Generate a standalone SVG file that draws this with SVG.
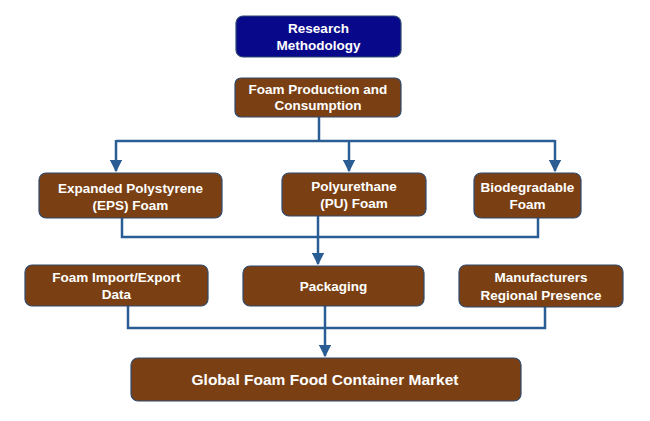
<svg xmlns="http://www.w3.org/2000/svg" width="650" height="421" viewBox="0 0 650 421">
<style>
.box{fill:#7a3f12;stroke:#2f4a6e;stroke-width:1.2}
.blue{fill:#08088a;stroke:#2f4a6e;stroke-width:1.2}
.t{font-family:"Liberation Sans",Arial,sans-serif;font-weight:bold;font-size:13.5px;fill:#fff;text-anchor:middle}
.c{fill:none;stroke:#2b5d95;stroke-width:2.5}
</style>
<defs>
<marker id="a" viewBox="0 0 10 10" refX="9" refY="5" markerWidth="5" markerHeight="5" orient="auto"><path d="M0,0L10,5L0,10z" fill="#2b5d95"/></marker>
</defs>
<rect width="650" height="421" fill="#fff"/>
<g id="connectors">
<path class="c" d="M319,117V141"/>
<path class="c" d="M116,141H555"/>
<path class="c" d="M116,140V171" marker-end="url(#a)"/>
<path class="c" d="M349,141V171" marker-end="url(#a)"/>
<path class="c" d="M555,140V171" marker-end="url(#a)"/>
<path class="c" d="M122,218V237H538V218"/>
<path class="c" d="M318,216V264" marker-end="url(#a)"/>
<path class="c" d="M128,306V328H545V307"/>
<path class="c" d="M325,306V356" marker-end="url(#a)"/>
</g>
<g id="research"><rect class="blue" x="236" y="16" width="165" height="41" rx="7"/><text class="t" x="318.5" y="33">Research</text><text class="t" x="318.5" y="50">Methodology</text></g>
<g id="production"><rect class="box" x="235" y="78" width="166" height="39" rx="6"/><text class="t" x="318" y="94">Foam Production and</text><text class="t" x="318" y="110">Consumption</text></g>
<g id="eps"><rect class="box" x="39" y="173" width="183" height="45" rx="7"/><text class="t" x="130.5" y="193">Expanded Polystyrene</text><text class="t" x="130.5" y="210">(EPS) Foam</text></g>
<g id="pu"><rect class="box" x="282" y="173" width="144" height="43" rx="7"/><text class="t" x="354" y="191">Polyurethane</text><text class="t" x="354" y="208">(PU) Foam</text></g>
<g id="bio"><rect class="box" x="474" y="173" width="107" height="45" rx="7"/><text class="t" x="527.5" y="192">Biodegradable</text><text class="t" x="527.5" y="209">Foam</text></g>
<g id="import"><rect class="box" x="25" y="265" width="183" height="41" rx="7"/><text class="t" x="116.5" y="282">Foam Import/Export</text><text class="t" x="116.5" y="299">Data</text></g>
<g id="packaging"><rect class="box" x="243" y="266" width="181" height="40" rx="7"/><text class="t" x="333.5" y="291">Packaging</text></g>
<g id="manufacturers"><rect class="box" x="459" y="265" width="164" height="42" rx="7"/><text class="t" x="541" y="282">Manufacturers</text><text class="t" x="541" y="300">Regional Presence</text></g>
<g id="global"><rect class="box" x="131" y="358" width="390" height="43" rx="7"/><text class="t" x="325" y="385" style="font-size:15.5px">Global Foam Food Container Market</text></g>
</svg>
